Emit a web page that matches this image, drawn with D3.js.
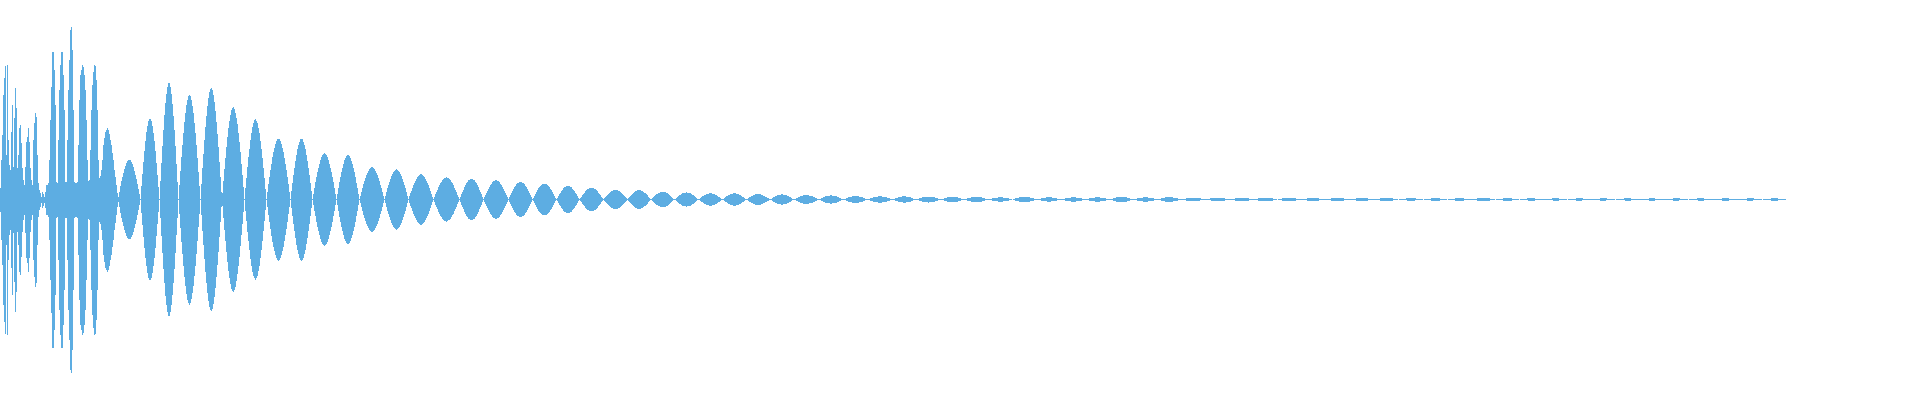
<!DOCTYPE html>
<html>
<head>
<meta charset="utf-8">
<script src="https://cdn.jsdelivr.net/npm/d3@7"></script>
<style>
  body { margin: 0; background: #ffffff; }
  #chart { width: 1920px; height: 400px; }
</style>
</head>
<body>
<div id="chart"></div>
<script>
// attack: one bar per pixel column, amplitude (peak, symmetric around 0)
const attackAmp = [12,40,65,105,122,134,45,135,60,35,
    30,68,95,33,82,112,92,32,45,72,
    75,57,32,20,15,33,58,63,72,58,
    32,20,15,60,77,87,83,45,17,10,
    7,3,8,6,3,8,15,15,17,40,
    80,113,148,148,130,95,18,17,60,110,
    135,148,148,125,90,18,18,60,110,140,
    170,173,150,90,18,17,17,18,55,100,
    125,130,135,133,125,110,80,40,19,20,
    50,90,115,128,135,134,120,90,40,22,
    24,30,40,55,62,68,70,72,70,66,
    60,55,47,40,30,23,15,7];

// decay: zero crossings of the beating envelope (x) and the peak of each lobe
const lobeNodes = [118,140.5,159.5,178.5,200.5,222,244.5,266.5,290.5,312.5,
    336.5,359.5,384.5,408.5,433.5,459.5,483.5,508.5,532.5,556.5,
    579.5,603.5,627.5,651,674.5,698.5,722.5,746.5,770,794,
    818.5,843.5,867.5,892.5,916,941,964,988.5,1012.5,1037,
    1061,1085.5,1110,1133.5,1157.5,1181,1205.5,1230,1253.5,1277.5,
    1301,1325,1349.5,1374.5,1398.5,1423.5,1447.5,1471.5,1495.5,1519.5,
    1544,1567.5,1591,1615.5,1640,1664,1688.5,1713,1738,1762.5,1786];

const lobeAmp = [40,81.5,117,105,111.5,92.5,80.3,61,61,46.3,
    44.7,32.5,30.3,25.3,22.2,21,19.5,18,16,14,
    12,9.7,9.5,7.8,7.2,6.3,6.3,5.5,5.2,4.7,
    4.2,3.7,3.3,3.3,3.0,2.8,2.8,2.3,2.8,2.3,
    2.3,2.3,2.8,2.3,2.5,1.8,1.8,1.8,1.8,1.8,
    1.5,1.5,1.5,1.5,1.3,1.3,1.3,1.5,1.3,1.2,
    1.2,1.2,1.2,1.2,1.2,1.2,1.2,1.2,1.2,1.2];

const waveColor = "#5dade2";

//1. SVG
const width = 1920;
const height = 400;

const svg = d3.select("#chart")
    .append("svg")
    .attr("width", width)
    .attr("height", height);

//2. SCALES (x = pixel column / sample block, y = amplitude)
const xScale = d3.scaleLinear()
    .domain([0, 1920])
    .range([0, width]);

const yScale = d3.scaleLinear()
    .domain([-175, 175])
    .range([374.5, 24.5]);

//3. ATTACK BARS
svg.append("g")
    .selectAll("rect")
    .data(attackAmp)
    .enter()
    .append("rect")
        .attr("x", (d, i) => xScale(i))
        .attr("width", (d, i) => xScale(i + 1) - xScale(i))
        .attr("y", d => yScale(d))
        .attr("height", d => yScale(-d) - yScale(d))
        .attr("shape-rendering", "crispEdges")
        .style("fill", waveColor);

//4. DECAY LOBES
const lobes = lobeAmp.map(function(a, i) {
    const x0 = lobeNodes[i], x1 = lobeNodes[i + 1];
    return [[x0, 0], [(x0 + x1) / 2, a], [x1, 0]];
});

const area = d3.area()
    .x(d => xScale(d[0]))
    .y0(d => yScale(-d[1]))
    .y1(d => yScale(d[1]))
    .curve(d3.curveNatural);

svg.append("g")
    .selectAll("path")
    .data(lobes)
    .enter()
    .append("path")
        .attr("d", area)
        .attr("shape-rendering", "crispEdges")
        .style("fill", waveColor);
</script>
</body>
</html>
